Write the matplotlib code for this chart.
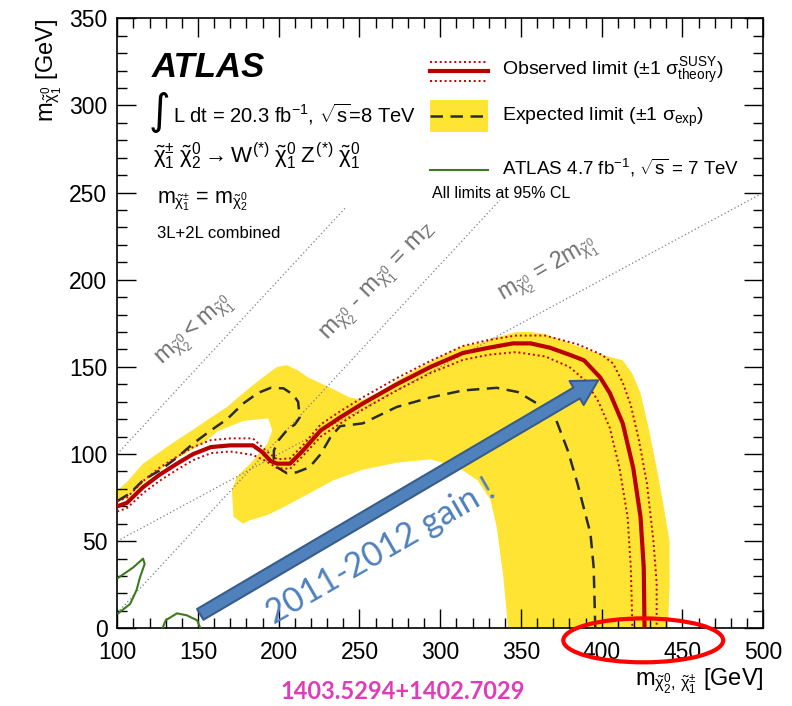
import matplotlib
matplotlib.use("Agg")
import matplotlib.pyplot as plt
from matplotlib.patches import Ellipse, Rectangle
from matplotlib.ticker import MultipleLocator

plt.rcParams['font.family'] = ['Liberation Sans', 'DejaVu Sans']
plt.rcParams['mathtext.fontset'] = 'custom'
plt.rcParams['mathtext.rm'] = 'Liberation Sans'
plt.rcParams['mathtext.it'] = 'Liberation Sans'
plt.rcParams['mathtext.bf'] = 'Liberation Sans:bold'

# observed limit and its +-1 sigma theory lines
obs_x = [100, 106, 116, 126, 137, 147, 158, 170, 184, 190, 195, 199, 207, 215, 226, 238, 252,
         273, 294, 314, 330, 345, 356, 368, 380, 389, 399, 405, 413, 419.5, 424, 426, 426.5]
obs_y = [70, 72, 81, 88, 94.5, 100, 104, 105, 105, 101, 96, 94.5, 94.5, 102, 113.6, 121, 129,
         140, 150, 158, 161, 163.5, 163.5, 161, 157, 153.8, 144, 135, 117.6, 92, 64, 35, 0]
obs_up_x = [100, 106, 116, 126, 137, 147, 158, 170, 184, 192, 199, 207, 215, 226, 238, 252, 273,
            294, 314, 330, 347, 365, 385, 400, 407, 413, 418, 423, 428, 432, 434, 434]
obs_up_y = [73, 75, 84.5, 92, 98.5, 104, 108, 109, 109, 102, 97, 97.5, 105, 117, 124.5, 132.5, 143.5,
            153.5, 162, 165.5, 168, 168, 163, 157, 152, 141, 128, 108, 83, 50, 26, 0]
obs_dn_x = [100, 106, 116, 126, 137, 147, 158, 170, 184, 192, 199, 207, 215, 226, 238, 252, 273,
            294, 314, 330, 347, 365, 380, 390, 398, 405, 411, 416, 418, 419]
obs_dn_y = [67, 69, 77.5, 84.5, 91, 96.5, 100.5, 101.5, 99.5, 96, 92, 91.5, 99, 110, 117.5, 125.5, 136.5,
            146.5, 154, 157, 158.5, 156, 150, 142, 130, 115, 92, 64, 35, 0]

# expected limit
exp_x = [100, 108, 116, 127, 137, 147, 158, 168, 178, 187, 195, 203, 209, 212, 213, 210, 205, 200,
         197, 197, 199, 205, 211, 219, 226, 232, 238, 252, 273, 294, 314, 335, 348, 360, 372, 379,
         385, 390, 393, 395, 396]
exp_y = [73, 77.5, 85, 91, 98, 106, 113.6, 120, 129, 135, 138, 137.7, 134, 130, 121, 117, 113.6, 108,
         102, 97, 92.4, 89, 89.5, 92.4, 100, 109.6, 116, 117.6, 127, 132.5, 136.5, 138, 135.6, 129, 119,
         102, 83, 65, 54.5, 35, 0]

# +-1 sigma exp band: outer edge, then inner edge back
band_top_x = [100, 106, 116, 126, 137, 147, 158, 168, 178, 186, 193, 199, 205, 212, 218, 225, 232,
              244, 252, 263, 273, 284, 294, 304, 314, 326, 335, 347, 356, 364, 376, 388, 400, 413,
              419, 424, 429, 434, 438, 442, 442, 441]
band_top_y = [79, 84, 94.5, 101, 108, 114, 121, 127, 135, 141, 146, 150, 151, 148, 144, 141, 138,
              132.5, 131, 136, 142, 148, 153, 158, 162, 164, 167, 170, 170, 169, 165, 161, 157, 153.8,
              146, 135, 115, 92, 72, 50, 25, 0]
band_in_x = [342, 339, 335, 331, 323, 311, 294, 273, 252, 234, 224, 203, 193, 182, 178, 172,
             171, 174, 184, 193, 196, 193.5, 178, 162, 153, 147, 137, 126, 116, 106, 100]
band_in_y = [0, 30, 58, 74, 85, 92.4, 97, 95, 91, 85, 80, 69.5, 65, 62, 60, 64,
             79, 87, 96, 106, 113.6, 120.5, 119, 113, 106, 103, 97.5, 90.5, 83, 74.5, 72.5]

# ATLAS 4.7 fb-1 7 TeV contours
old_a_x = [100.6, 110, 116, 117, 114, 112, 108, 100.6]
old_a_y = [29, 35, 40, 37, 29, 22, 14, 8.6]
old_b_x = [128, 130, 137, 143, 149.5, 151.5]
old_b_y = [0, 4.6, 8.6, 7.5, 4.6, 0]

# kinematic lines: (x range, slope, offset)
diag_x = [[100, 241], [100, 337], [100, 500]]
diag_slope = [1.0, 1.0, 0.5]
diag_off = [0.0, -91.2, 0.0]

arrow_start = (151.4, 8.0)
arrow_end = (397.8, 142.3)

fig = plt.figure(figsize=(7.92, 7.06), dpi=100)
ax = fig.add_axes([0.148, 0.110, 0.8157, 0.864])

yellow = '#ffe433'
ax.fill(band_top_x + band_in_x, band_top_y + band_in_y, color=yellow, lw=0, zorder=1)

for xs, k, c in zip(diag_x, diag_slope, diag_off):
    ax.plot(xs, [k * v + c for v in xs], ls=(0, (1, 2)), color='#7a7a90', lw=0.9, zorder=2)

ax.plot(exp_x, exp_y, color='#2b2b2b', lw=1.8, ls=(0, (5, 3)), zorder=3)
ax.plot(obs_up_x, obs_up_y, color='#c00000', lw=1.4, ls=(0, (1, 1.5)), zorder=4)
ax.plot(obs_dn_x, obs_dn_y, color='#c00000', lw=1.4, ls=(0, (1, 1.5)), zorder=4)
ax.plot(obs_x, obs_y, color='#b80000', lw=3, zorder=5)
ax.plot(old_a_x, old_a_y, color='#3c7a1c', lw=1.5, zorder=4)
ax.plot(old_b_x, old_b_y, color='#3c7a1c', lw=1.5, zorder=4)

ax.set_xlim(100, 500)
ax.set_ylim(0, 350)
ax.xaxis.set_major_locator(MultipleLocator(50))
ax.xaxis.set_minor_locator(MultipleLocator(10))
ax.yaxis.set_major_locator(MultipleLocator(50))
ax.yaxis.set_minor_locator(MultipleLocator(10))
ax.tick_params(which='both', direction='in', top=True, right=True, labelsize=16.5, width=1)
ax.tick_params(which='major', length=13.5, pad=7)
ax.tick_params(axis='x', which='major', pad=9)
ax.tick_params(which='minor', length=7)
for s in ax.spines.values():
    s.set_linewidth(1.2)

ax.set_xlabel(r'$m_{\tilde{\chi}^{0}_{2},\,\tilde{\chi}^{\pm}_{1}}$ [GeV]', fontsize=17, loc='right', labelpad=2)
ax.set_ylabel(r'$m_{\tilde{\chi}^{0}_{1}}$ [GeV]', fontsize=17, loc='top', labelpad=4)

# kinematic labels
gray = '#707070'
ax.text(148.3, 170.4, r'$m_{\tilde{\chi}^{0}_{2}} < m_{\tilde{\chi}^{0}_{1}}$', color=gray, fontsize=17,
        rotation=42, ha='center', va='center')
ax.text(262.8, 198, r'$m_{\tilde{\chi}^{0}_{2}}$ - $m_{\tilde{\chi}^{0}_{1}}$ = $m_{Z}$', color=gray,
        fontsize=17.5, rotation=46, ha='center', va='center')
ax.text(366.9, 205.4, r'$m_{\tilde{\chi}^{0}_{2}}$ = 2$m_{\tilde{\chi}^{0}_{1}}$', color=gray, fontsize=16.5,
        rotation=30, ha='center', va='center')

# top-left block
T = ax.transAxes
ax.text(0.054, 0.92, 'ATLAS', transform=T, fontsize=25, fontweight='bold', style='italic', va='center')
ax.text(0.048, 0.846, '\u222b', transform=T, fontsize=30, va='center', family='DejaVu Sans')
ax.text(0.086, 0.843, r'L dt = 20.3 fb$^{-1}$, $\sqrt{s}$=8 TeV', transform=T, fontsize=14.5, va='center')
ax.text(0.056, 0.773, r'$\tilde{\chi}^{\pm}_{1}\;\tilde{\chi}^{0}_{2}\rightarrow W^{(*)}\;\tilde{\chi}^{0}_{1}\;Z^{(*)}\;\tilde{\chi}^{0}_{1}$',
        transform=T, fontsize=16, va='center')
ax.text(0.062, 0.700, r'$m_{\tilde{\chi}^{\pm}_{1}}$ = $m_{\tilde{\chi}^{0}_{2}}$', transform=T, fontsize=15.5, va='center')
ax.text(0.062, 0.648, '3L+2L combined', transform=T, fontsize=12, va='center')

# legend
ax.plot([0.4845, 0.574], [0.928, 0.928], transform=T, color='#c00000', lw=1.4, ls=(0, (1, 1.5)))
ax.plot([0.4845, 0.574], [0.897, 0.897], transform=T, color='#c00000', lw=1.4, ls=(0, (1, 1.5)))
ax.plot([0.4845, 0.574], [0.913, 0.913], transform=T, color='#b80000', lw=3)
ax.add_patch(Rectangle((0.4845, 0.813), 0.0895, 0.053, transform=T, color=yellow, lw=0))
ax.plot([0.4845, 0.574], [0.8395, 0.8395], transform=T, color='#2b2b2b', lw=1.8, ls=(0, (5, 3)))
ax.plot([0.4845, 0.574], [0.752, 0.752], transform=T, color='#3c7a1c', lw=1.5)
ax.text(0.596, 0.913, r'Observed limit ($\pm$1 $\sigma^{\mathrm{SUSY}}_{\mathrm{theory}}$)', transform=T,
        fontsize=14, va='center')
ax.text(0.596, 0.838, r'Expected limit ($\pm$1 $\sigma_{\mathrm{exp}}$)', transform=T, fontsize=14, va='center')
ax.text(0.596, 0.754, r'ATLAS 4.7 fb$^{-1}$, $\sqrt{s}$ = 7 TeV', transform=T, fontsize=13.5, va='center')
ax.text(0.488, 0.713, 'All limits at 95% CL', transform=T, fontsize=11.5, va='center')

# annotations
ax.annotate('', xy=arrow_end, xytext=arrow_start,
            arrowprops=dict(arrowstyle='simple,head_length=0.9,head_width=1.0,tail_width=0.45',
                            fc='#4f81bd', ec='#385d8a', lw=1.5, mutation_scale=20,
                            shrinkA=0, shrinkB=0), zorder=8)
ax.text(263, 44, '2011-2012 gain !', color='#4f81bd', fontsize=24.5, family='Lato', rotation=30,
        ha='center', va='center', zorder=9)
ax.add_patch(Ellipse((425.7, -6.9), 99, 25.2, fill=False, ec='#ff0000', lw=3, clip_on=False, zorder=10))

fig.text(0.509, 0.020, '1403.5294+1402.7029', color='#e03cb8', fontsize=17, fontweight='bold',
         family='Lato', ha='center', va='center')

fig.savefig('out.png', dpi=100)
